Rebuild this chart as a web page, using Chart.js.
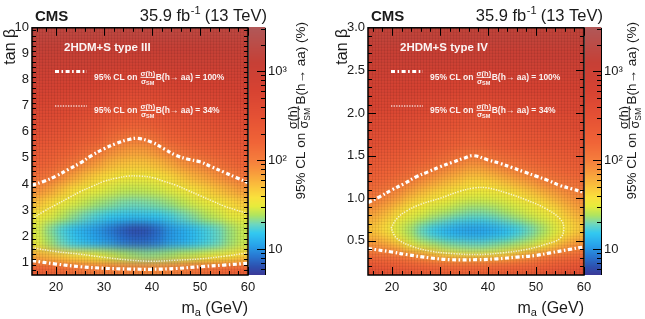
<!DOCTYPE html>
<html>
<head>
<meta charset="utf-8">
<script src="https://cdn.jsdelivr.net/npm/chart.js@4.4.1/dist/chart.umd.min.js"></script>
<style>
  html, body { margin: 0; padding: 0; background: #fff; }
  #wrap { position: relative; width: 645px; height: 319px; }
  #left { position: absolute; left: 0; top: 0; }
  #right { position: absolute; left: 325px; top: 0; }
</style>
</head>
<body>
<div id="wrap">
  <canvas id="left" width="325" height="319"></canvas>
  <canvas id="right" width="320" height="319"></canvas>
</div>
<script>
// CMS h->aa limits in the 2HDM+S (type III and type IV), m_a vs tan(beta)

// bin edges of the limit maps
const massEdges = [15, 17.5, 20, 22.5, 25, 27.5, 30, 32.5, 35, 37.5, 40, 42.5, 45, 47.5, 50, 52.5, 55, 57.5, 60];
const tanbEdgesIII = [0.5, 1, 1.5, 2, 2.5, 3, 3.5, 4, 4.5, 5, 5.5, 6, 6.5, 7, 7.5, 8, 8.5, 9, 9.5, 10];
const tanbEdgesIV = [0.1, 0.2, 0.3, 0.4, 0.5, 0.6, 0.7, 0.8, 0.9, 1.0, 1.1, 1.2, 1.3, 1.4, 1.5, 1.6, 1.8, 2.0, 2.2, 2.4, 2.6, 2.8, 3.0];

// log10 of the 95% CL limit (in %); rows go up in tan(beta), columns along m_a
const limitLog10III = [
  [2.25, 2.19, 2.15, 2.09, 2.05, 2.02, 2.00, 1.99, 1.97, 1.96, 1.95, 1.98, 2.01, 2.08, 2.12, 2.17, 2.20, 2.24],
  [1.78, 1.72, 1.66, 1.60, 1.55, 1.48, 1.44, 1.39, 1.36, 1.34, 1.35, 1.37, 1.41, 1.43, 1.47, 1.51, 1.54, 1.62],
  [1.47, 1.36, 1.27, 1.19, 1.12, 1.05, 1.00, 0.92, 0.88, 0.88, 0.93, 1.02, 1.07, 1.14, 1.21, 1.27, 1.35, 1.42],
  [1.45, 1.32, 1.22, 1.13, 1.06, 1.00, 0.92, 0.84, 0.78, 0.80, 0.88, 1.00, 1.06, 1.13, 1.21, 1.27, 1.35, 1.42],
  [1.52, 1.47, 1.40, 1.33, 1.27, 1.22, 1.18, 1.15, 1.14, 1.15, 1.17, 1.21, 1.27, 1.32, 1.38, 1.43, 1.48, 1.51],
  [1.71, 1.61, 1.51, 1.46, 1.41, 1.36, 1.33, 1.30, 1.29, 1.30, 1.32, 1.35, 1.40, 1.45, 1.49, 1.53, 1.60, 1.66],
  [1.90, 1.82, 1.70, 1.59, 1.52, 1.48, 1.45, 1.42, 1.41, 1.42, 1.44, 1.47, 1.51, 1.57, 1.64, 1.71, 1.78, 1.85],
  [2.10, 2.03, 1.92, 1.81, 1.71, 1.63, 1.57, 1.53, 1.52, 1.52, 1.55, 1.61, 1.69, 1.76, 1.82, 1.89, 1.96, 2.05],
  [2.24, 2.19, 2.12, 2.03, 1.92, 1.84, 1.75, 1.70, 1.68, 1.69, 1.73, 1.80, 1.88, 1.94, 2.00, 2.09, 2.15, 2.20],
  [2.35, 2.32, 2.26, 2.20, 2.13, 2.06, 1.93, 1.87, 1.84, 1.85, 1.91, 2.00, 2.10, 2.15, 2.19, 2.24, 2.29, 2.33],
  [2.46, 2.43, 2.39, 2.34, 2.29, 2.24, 2.14, 2.06, 2.00, 2.04, 2.12, 2.21, 2.26, 2.30, 2.33, 2.37, 2.41, 2.44],
  [2.57, 2.54, 2.50, 2.47, 2.42, 2.38, 2.31, 2.26, 2.23, 2.24, 2.30, 2.36, 2.40, 2.43, 2.46, 2.49, 2.52, 2.55],
  [2.66, 2.64, 2.62, 2.58, 2.55, 2.52, 2.46, 2.42, 2.40, 2.41, 2.45, 2.50, 2.53, 2.55, 2.58, 2.60, 2.63, 2.65],
  [2.76, 2.74, 2.72, 2.70, 2.67, 2.64, 2.60, 2.57, 2.55, 2.56, 2.59, 2.63, 2.65, 2.67, 2.69, 2.71, 2.73, 2.75],
  [2.85, 2.84, 2.82, 2.80, 2.78, 2.76, 2.73, 2.70, 2.69, 2.70, 2.72, 2.75, 2.77, 2.78, 2.80, 2.81, 2.83, 2.84],
  [2.94, 2.93, 2.92, 2.90, 2.89, 2.87, 2.85, 2.83, 2.82, 2.83, 2.85, 2.87, 2.88, 2.89, 2.90, 2.91, 2.92, 2.93],
  [3.03, 3.02, 3.01, 3.00, 3.00, 2.98, 2.97, 2.96, 2.95, 2.96, 2.97, 2.98, 2.99, 3.00, 3.00, 3.01, 3.02, 3.02],
  [3.12, 3.11, 3.11, 3.10, 3.10, 3.09, 3.09, 3.08, 3.08, 3.08, 3.08, 3.09, 3.10, 3.10, 3.10, 3.11, 3.11, 3.11],
  [3.20, 3.20, 3.20, 3.20, 3.20, 3.20, 3.20, 3.20, 3.20, 3.20, 3.20, 3.20, 3.20, 3.20, 3.20, 3.20, 3.20, 3.20]
];

const limitLog10IV = [
  [2.50, 2.46, 2.42, 2.37, 2.34, 2.30, 2.27, 2.26, 2.26, 2.26, 2.28, 2.30, 2.32, 2.34, 2.38, 2.42, 2.47, 2.53],
  [2.30, 2.26, 2.22, 2.17, 2.14, 2.10, 2.07, 2.06, 2.06, 2.06, 2.08, 2.10, 2.12, 2.14, 2.18, 2.22, 2.27, 2.33],
  [2.10, 2.06, 2.02, 1.93, 1.82, 1.71, 1.59, 1.53, 1.51, 1.51, 1.53, 1.61, 1.73, 1.82, 1.95, 2.02, 2.07, 2.13],
  [1.90, 1.84, 1.74, 1.51, 1.45, 1.40, 1.34, 1.31, 1.29, 1.29, 1.32, 1.36, 1.41, 1.45, 1.52, 1.68, 1.84, 1.92],
  [1.75, 1.67, 1.51, 1.40, 1.30, 1.22, 1.15, 1.11, 1.09, 1.09, 1.13, 1.18, 1.25, 1.32, 1.40, 1.48, 1.64, 1.75],
  [1.68, 1.58, 1.45, 1.36, 1.25, 1.16, 1.09, 1.04, 1.02, 1.03, 1.06, 1.12, 1.19, 1.27, 1.35, 1.45, 1.55, 1.66],
  [1.76, 1.66, 1.52, 1.46, 1.39, 1.33, 1.28, 1.23, 1.21, 1.21, 1.24, 1.29, 1.34, 1.39, 1.45, 1.51, 1.62, 1.72],
  [1.85, 1.76, 1.63, 1.52, 1.48, 1.43, 1.39, 1.35, 1.32, 1.32, 1.34, 1.38, 1.43, 1.47, 1.51, 1.57, 1.71, 1.80],
  [1.96, 1.87, 1.77, 1.64, 1.56, 1.51, 1.48, 1.44, 1.41, 1.41, 1.43, 1.46, 1.49, 1.52, 1.60, 1.70, 1.80, 1.88],
  [2.07, 1.99, 1.90, 1.79, 1.70, 1.62, 1.57, 1.52, 1.49, 1.48, 1.50, 1.52, 1.59, 1.66, 1.74, 1.82, 1.90, 1.96],
  [2.16, 2.10, 2.03, 1.93, 1.83, 1.76, 1.69, 1.63, 1.58, 1.57, 1.60, 1.66, 1.73, 1.80, 1.88, 1.95, 2.02, 2.07],
  [2.23, 2.19, 2.13, 2.07, 1.97, 1.89, 1.82, 1.76, 1.70, 1.70, 1.74, 1.81, 1.87, 1.94, 2.02, 2.08, 2.13, 2.16],
  [2.30, 2.26, 2.22, 2.16, 2.10, 2.03, 1.95, 1.89, 1.83, 1.83, 1.89, 1.96, 2.02, 2.08, 2.13, 2.17, 2.21, 2.24],
  [2.37, 2.33, 2.29, 2.25, 2.20, 2.15, 2.09, 2.02, 1.95, 1.96, 2.04, 2.10, 2.14, 2.18, 2.22, 2.26, 2.29, 2.32],
  [2.43, 2.40, 2.36, 2.33, 2.28, 2.24, 2.19, 2.14, 2.09, 2.10, 2.16, 2.20, 2.23, 2.27, 2.30, 2.33, 2.36, 2.38],
  [2.52, 2.49, 2.46, 2.43, 2.40, 2.36, 2.32, 2.29, 2.25, 2.26, 2.30, 2.33, 2.36, 2.39, 2.41, 2.44, 2.46, 2.48],
  [2.63, 2.61, 2.59, 2.57, 2.54, 2.51, 2.48, 2.46, 2.43, 2.43, 2.46, 2.49, 2.51, 2.53, 2.55, 2.57, 2.59, 2.60],
  [2.75, 2.73, 2.71, 2.69, 2.67, 2.65, 2.63, 2.61, 2.59, 2.59, 2.61, 2.63, 2.65, 2.66, 2.68, 2.69, 2.71, 2.72],
  [2.85, 2.84, 2.83, 2.81, 2.80, 2.78, 2.77, 2.75, 2.74, 2.74, 2.76, 2.77, 2.78, 2.79, 2.80, 2.81, 2.82, 2.83],
  [2.95, 2.95, 2.94, 2.93, 2.92, 2.91, 2.90, 2.89, 2.88, 2.88, 2.89, 2.90, 2.91, 2.92, 2.92, 2.93, 2.94, 2.94],
  [3.05, 3.05, 3.04, 3.04, 3.04, 3.03, 3.03, 3.02, 3.02, 3.02, 3.02, 3.03, 3.03, 3.03, 3.04, 3.04, 3.04, 3.05],
  [3.15, 3.15, 3.15, 3.15, 3.15, 3.15, 3.15, 3.15, 3.15, 3.15, 3.15, 3.15, 3.15, 3.15, 3.15, 3.15, 3.15, 3.15]
];

// contours [m_a, tan(beta)]
const c100UpperIII = [[15, 3.95], [17.5, 4.1], [20, 4.3], [22.5, 4.55], [25, 4.8], [27.5, 5.1], [30, 5.35], [32.5, 5.55], [35, 5.7], [37, 5.75], [40, 5.6], [42.5, 5.35], [45, 5.1], [47.5, 4.95], [50, 4.85], [52.5, 4.65], [55, 4.45], [57.5, 4.25], [60, 4.05]];
const c100LowerIII = [[15, 1.05], [20, 0.92], [25, 0.82], [30, 0.76], [35, 0.73], [40, 0.72], [45, 0.75], [50, 0.82], [55, 0.88], [60, 0.95]];
const c34UpperIII = [[15, 2.65], [17.5, 2.95], [20, 3.2], [22.5, 3.45], [25, 3.7], [27.5, 3.9], [30, 4.1], [32.5, 4.22], [35, 4.3], [37.5, 4.3], [40, 4.25], [42.5, 4.1], [45, 3.95], [47.5, 3.75], [50, 3.55], [52.5, 3.35], [55, 3.15], [57.5, 3.0], [60, 2.85]];
const c34LowerIII = [[15, 1.55], [20, 1.4], [25, 1.3], [30, 1.18], [35, 1.08], [40, 1.03], [45, 1.07], [50, 1.12], [55, 1.22], [60, 1.35]];

const c100UpperIV = [[15, 0.95], [17.5, 1.02], [20, 1.1], [22.5, 1.17], [25, 1.25], [27.5, 1.31], [30, 1.37], [32.5, 1.42], [35, 1.47], [37, 1.5], [40, 1.45], [42.5, 1.41], [45, 1.36], [47.5, 1.31], [50, 1.26], [52.5, 1.21], [55, 1.15], [57.5, 1.11], [60, 1.07]];
const c100LowerIV = [[15, 0.41], [20, 0.37], [23, 0.34], [28, 0.30], [32, 0.28], [38, 0.28], [42, 0.29], [46, 0.31], [50, 0.33], [53, 0.36], [57, 0.40], [60, 0.43]];
const c34LoopIV = [[19.8, 0.65], [21, 0.76], [23, 0.85], [26, 0.93], [30, 1.0], [34, 1.08], [37, 1.12], [40, 1.12], [44, 1.06], [48, 0.98], [52, 0.88], [55, 0.76], [55.8, 0.65], [55, 0.53], [52, 0.46], [48, 0.40], [43, 0.36], [38, 0.34], [33, 0.35], [28, 0.38], [24, 0.44], [21, 0.53], [19.8, 0.65]];

// axis ticks
const massTicks = [20, 30, 40, 50, 60];
const tanbTicksIII = [1, 2, 3, 4, 5, 6, 7, 8, 9, 10];
const tanbTicksIV = [0.5, 1.0, 1.5, 2.0, 2.5, 3.0];
const limitTicks = [10, 100, 1000];

const FONT = '"Liberation Sans", Arial, Helvetica, sans-serif';
const INK = '#1a1a1a';

// colour palette along log10(limit)
const palette = [
  [0.70, [60, 55, 150]], [0.80, [45, 80, 175]], [0.92, [40, 120, 210]], [1.05, [40, 165, 235]],
  [1.18, [50, 200, 240]], [1.28, [110, 215, 190]], [1.38, [175, 228, 95]], [1.48, [230, 235, 60]],
  [1.58, [250, 225, 60]], [1.72, [250, 190, 60]], [1.88, [248, 150, 60]], [2.0, [245, 125, 60]],
  [2.2, [240, 100, 55]], [2.5, [228, 80, 52]], [2.8, [214, 66, 50]], [3.1, [198, 64, 54]], [3.5, [176, 88, 88]]
];

function limitColor(L) {
  if (L <= palette[0][0]) return 'rgb(' + palette[0][1].join(',') + ')';
  for (let k = 1; k < palette.length; k++) {
    if (L <= palette[k][0]) {
      const [l0, c0] = palette[k - 1];
      const [l1, c1] = palette[k];
      const f = (L - l0) / (l1 - l0);
      return 'rgb(' + c0.map((c, i) => Math.round(c + f * (c1[i] - c))).join(',') + ')';
    }
  }
  return 'rgb(' + palette[palette.length - 1][1].join(',') + ')';
}

function drawHeatmap(chart, p) {
  const { ctx, chartArea: a, scales: { x, y } } = chart;
  // cells go to an offscreen layer first (edge cells padded outward), then softened
  const off = document.createElement('canvas');
  off.width = chart.width;
  off.height = chart.height;
  const oc = off.getContext('2d');
  const nRow = p.grid.length, nCol = massEdges.length - 1, pad = 16;
  p.grid.forEach((row, j) => {
    let yTop = Math.floor(y.getPixelForValue(p.yEdges[j + 1]));
    let yBot = Math.ceil(y.getPixelForValue(p.yEdges[j]));
    if (j === 0) yBot += pad;
    if (j === nRow - 1) yTop -= pad;
    row.forEach((L, i) => {
      let x0 = Math.floor(x.getPixelForValue(massEdges[i]));
      let x1 = Math.ceil(x.getPixelForValue(massEdges[i + 1]));
      if (i === 0) x0 -= pad;
      if (i === nCol - 1) x1 += pad;
      oc.fillStyle = limitColor(L);
      oc.fillRect(x0, yTop, x1 - x0, yBot - yTop);
    });
  });
  ctx.save();
  ctx.beginPath();
  ctx.rect(a.left, a.top, a.right - a.left, a.bottom - a.top);
  ctx.clip();
  ctx.filter = 'blur(4px)';
  ctx.drawImage(off, 0, 0);
  ctx.filter = 'none';
  // fine mesh texture of the original histogram
  ctx.strokeStyle = 'rgba(0,0,0,0.07)';
  ctx.lineWidth = 1;
  ctx.beginPath();
  for (let px = a.left + 1.5; px < a.right; px += 3) { ctx.moveTo(px, a.top); ctx.lineTo(px, a.bottom); }
  for (let py = a.top + 1.5; py < a.bottom; py += 3) { ctx.moveTo(a.left, py); ctx.lineTo(a.right, py); }
  ctx.stroke();
  ctx.restore();
}

function drawFrame(chart, p) {
  const { ctx, chartArea: a, scales: { x, y } } = chart;
  ctx.save();
  ctx.strokeStyle = '#000';
  ctx.lineWidth = 1;
  ctx.beginPath();
  const xTick = (v, len) => {
    const px = Math.round(x.getPixelForValue(v)) + 0.5;
    ctx.moveTo(px, a.bottom); ctx.lineTo(px, a.bottom - len);
    ctx.moveTo(px, a.top); ctx.lineTo(px, a.top + len);
  };
  const yTick = (v, len) => {
    const py = Math.round(y.getPixelForValue(v)) + 0.5;
    ctx.moveTo(a.left, py); ctx.lineTo(a.left + len, py);
    ctx.moveTo(a.right, py); ctx.lineTo(a.right - len, py);
  };
  for (let v = 16; v < 60; v += 2) xTick(v, massTicks.includes(v) ? 8 : 4);
  xTick(60, 8);
  const n = Math.round((p.yMax - p.yMin) / p.yMinor);
  for (let k = 1; k < n; k++) {
    const v = +(p.yMin + k * p.yMinor).toFixed(3);
    yTick(v, p.yTicks.some(t => Math.abs(t - v) < 1e-6) ? 8 : 4);
  }
  ctx.stroke();
  ctx.lineWidth = 1.5;
  ctx.strokeRect(a.left, a.top, a.right - a.left, a.bottom - a.top);
  ctx.restore();
}

function drawColorbar(chart) {
  const { ctx, chartArea: a, scales: { z } } = chart;
  const x0 = a.right + 1, w = 16;
  ctx.save();
  for (let py = Math.floor(z.top); py < z.bottom; py++) {
    ctx.fillStyle = limitColor(Math.log10(z.getValueForPixel(py + 0.5)));
    ctx.fillRect(x0, py, w, 1);
  }
  ctx.strokeStyle = '#000';
  ctx.lineWidth = 1;
  ctx.beginPath();
  ctx.moveTo(x0 + w + 0.5, z.top); ctx.lineTo(x0 + w + 0.5, z.bottom);
  [1, 10, 100, 1000].forEach(dec => {
    for (let m = 1; m < 10; m++) {
      const v = dec * m;
      if (v < z.min || v > z.max) continue;
      const py = Math.round(z.getPixelForValue(v)) + 0.5;
      const len = m === 1 ? 8 : 4;
      ctx.moveTo(x0 + w, py); ctx.lineTo(x0 + w - len, py);
    }
  });
  ctx.stroke();
  ctx.restore();
}

function legendEntry(ctx, x, y, pct) {
  ctx.fillStyle = 'rgba(255,255,255,0.93)';
  ctx.textAlign = 'left';
  ctx.textBaseline = 'middle';
  ctx.font = 'bold 8.5px ' + FONT;
  const lead = '95% CL on';
  ctx.fillText(lead, x, y);
  let cx = x + ctx.measureText(lead).width + 3;
  ctx.textBaseline = 'alphabetic';
  ctx.font = 'bold 7.5px ' + FONT;
  const wNum = ctx.measureText('σ(h)').width;
  ctx.fillText('σ(h)', cx, y - 1.6);
  ctx.fillRect(cx, y - 0.6, wNum, 0.9);
  ctx.fillText('σ', cx + 0.5, y + 6.4);
  const wSig = ctx.measureText('σ').width;
  ctx.font = 'bold 5.5px ' + FONT;
  ctx.fillText('SM', cx + 0.5 + wSig, y + 7.8);
  cx += wNum + 0.5;
  ctx.textBaseline = 'middle';
  ctx.font = 'bold 8.5px ' + FONT;
  ctx.fillText('B(h\u2192 aa) = ' + pct + '%', cx, y);
}

function drawTexts(chart, p) {
  const { ctx, chartArea: a } = chart;
  ctx.save();
  ctx.fillStyle = INK;
  ctx.textBaseline = 'alphabetic';

  // CMS and luminosity
  ctx.textAlign = 'left';
  ctx.font = 'bold 15px ' + FONT;
  ctx.fillText('CMS', a.left + 3, 20.5);
  const big = '16.5px ' + FONT, sup = '11px ' + FONT;
  ctx.font = big;
  const lumiA = '35.9 fb', lumiB = ' (13 TeV)';
  const wA = ctx.measureText(lumiA).width, wB = ctx.measureText(lumiB).width;
  ctx.font = sup;
  const wS = ctx.measureText('-1').width;
  const lx = a.right + 19 - wA - wS - wB;
  ctx.font = big;
  ctx.fillText(lumiA, lx, 21);
  ctx.font = sup;
  ctx.fillText('-1', lx + wA + 0.5, 13.5);
  ctx.font = big;
  ctx.fillText(lumiB, lx + wA + wS, 21);

  // x title: m_a (GeV)
  ctx.font = '16px ' + FONT;
  const wm = ctx.measureText('m').width, wg = ctx.measureText(' (GeV)').width;
  ctx.font = '11px ' + FONT;
  const wa = ctx.measureText('a').width;
  const tx = a.right - wm - wa - wg;
  ctx.font = '16px ' + FONT;
  ctx.fillText('m', tx, 313);
  ctx.font = '11px ' + FONT;
  ctx.fillText('a', tx + wm, 316);
  ctx.font = '16px ' + FONT;
  ctx.fillText(' (GeV)', tx + wm + wa, 313);

  // y title: tan beta
  ctx.save();
  ctx.translate(p.yTitleX, a.top + 1);
  ctx.rotate(-Math.PI / 2);
  ctx.textAlign = 'right';
  ctx.font = '16px ' + FONT;
  ctx.fillText('tan \u03B2', 0, 0);
  ctx.restore();

  // colour bar title
  ctx.save();
  ctx.font = '13.5px ' + FONT;
  const t1 = '95% CL on ', t3 = 'B(h\u2192 aa) (%)';
  const w1 = ctx.measureText(t1).width, w3 = ctx.measureText(t3).width;
  ctx.font = '12.5px ' + FONT;
  const wf = ctx.measureText('σ(h)').width;
  const total = w1 + wf + 1.5 + w3;
  ctx.translate(p.zTitleX, 22 + total);
  ctx.rotate(-Math.PI / 2);
  ctx.textAlign = 'left';
  ctx.font = '13.5px ' + FONT;
  ctx.fillText(t1, 0, 0);
  ctx.font = '12.5px ' + FONT;
  ctx.fillText('σ(h)', w1, -8.5);
  ctx.fillRect(w1, -7.2, wf, 0.9);
  ctx.fillText('σ', w1 + 0.5, 2.8);
  const wsg = ctx.measureText('σ').width;
  ctx.font = '8.5px ' + FONT;
  ctx.fillText('SM', w1 + 0.5 + wsg, 4.8);
  ctx.font = '13.5px ' + FONT;
  ctx.fillText(t3, w1 + wf + 1.5, 0);
  ctx.restore();

  // model label
  ctx.fillStyle = 'rgba(255,255,255,0.95)';
  ctx.font = 'bold 11.5px ' + FONT;
  ctx.textBaseline = 'middle';
  ctx.fillText(p.model, a.left + 32, 48);

  // legend samples
  const sx0 = a.left + 23, sx1 = a.left + 55;
  ctx.save();
  ctx.strokeStyle = '#fff';
  ctx.lineWidth = 3.2;
  ctx.setLineDash([4, 2.5, 1.6, 2.5]);
  ctx.beginPath(); ctx.moveTo(sx0, 71.5); ctx.lineTo(sx1, 71.5); ctx.stroke();
  ctx.strokeStyle = 'rgba(255,255,255,0.75)';
  ctx.lineWidth = 1.6;
  ctx.setLineDash([1.3, 1.3]);
  ctx.beginPath(); ctx.moveTo(sx0, 106); ctx.lineTo(sx1, 106); ctx.stroke();
  ctx.restore();
  legendEntry(ctx, a.left + 62, 77.5, 100);
  legendEntry(ctx, a.left + 62, 110.5, 34);
  ctx.restore();
}

function panelPlugin(p) {
  return {
    id: 'panel' + p.canvas,
    beforeDatasetsDraw(chart) { drawHeatmap(chart, p); },
    afterDatasetsDraw(chart) { drawFrame(chart, p); drawColorbar(chart); },
    afterDraw(chart) { drawTexts(chart, p); }
  };
}

const style100 = { borderColor: '#ffffff', borderWidth: 3.2, borderDash: [4, 2.5, 1.6, 2.5], pointRadius: 0, tension: 0.4, fill: false };
const style34 = { borderColor: 'rgba(255,255,255,0.75)', borderWidth: 1.5, borderDash: [1.3, 1.3], pointRadius: 0, tension: 0.4, fill: false };
const toXY = pts => pts.map(([m, t]) => ({ x: m, y: t }));

function makePanel(p) {
  const tickFont = { family: FONT, size: 13 };
  return new Chart(document.getElementById(p.canvas), {
    type: 'line',
    data: { datasets: p.contours.map(([pts, st]) => Object.assign({ data: toXY(pts) }, st)) },
    options: {
      responsive: false,
      animation: false,
      layout: { padding: { top: 25, left: 0, right: 0, bottom: 0 } },
      plugins: { legend: { display: false }, tooltip: { enabled: false } },
      scales: {
        x: {
          type: 'linear', position: 'bottom', min: 15, max: 60,
          grid: { display: false, drawTicks: false }, border: { display: false },
          ticks: { padding: 5, font: tickFont, color: INK, maxRotation: 0, autoSkip: false },
          afterBuildTicks: s => { s.ticks = massTicks.map(v => ({ value: v })); },
          afterFit: s => { s.height = 44; }
        },
        y: {
          type: 'linear', position: 'left', min: p.yMin, max: p.yMax,
          grid: { display: false, drawTicks: false }, border: { display: false },
          ticks: { padding: 3, font: tickFont, color: INK, autoSkip: false, callback: p.yFmt },
          afterBuildTicks: s => { s.ticks = p.yTicks.map(v => ({ value: v })); },
          afterFit: s => { s.width = p.yAxisWidth; }
        },
        z: {
          type: 'logarithmic', position: 'right', min: 5.1, max: 3100,
          grid: { display: false, drawTicks: false }, border: { display: false },
          ticks: { padding: 20, font: tickFont, color: INK, autoSkip: false,
                   callback: v => ({ 10: '10', 100: '10\u00B2', 1000: '10\u00B3' })[v] || '' },
          afterBuildTicks: s => { s.ticks = limitTicks.map(v => ({ value: v })); },
          afterFit: s => { s.width = p.zAxisWidth; }
        }
      }
    },
    plugins: [panelPlugin(p)]
  });
}

makePanel({
  canvas: 'left', model: '2HDM+S type III',
  yEdges: tanbEdgesIII, grid: limitLog10III,
  yMin: 0.5, yMax: 10, yTicks: tanbTicksIII, yMinor: 0.2, yFmt: v => String(v),
  yAxisWidth: 32, zAxisWidth: 77, yTitleX: 15, zTitleX: 305,
  contours: [[c100UpperIII, style100], [c100LowerIII, style100], [c34UpperIII, style34], [c34LowerIII, style34]]
});

makePanel({
  canvas: 'right', model: '2HDM+S type IV',
  yEdges: tanbEdgesIV, grid: limitLog10IV,
  yMin: 0.1, yMax: 3.0, yTicks: tanbTicksIV, yMinor: 0.1, yFmt: v => Number(v).toFixed(1),
  yAxisWidth: 43, zAxisWidth: 61, yTitleX: 22, zTitleX: 311,
  contours: [[c100UpperIV, style100], [c100LowerIV, style100], [c34LoopIV, style34]]
});
</script>
</body>
</html>
